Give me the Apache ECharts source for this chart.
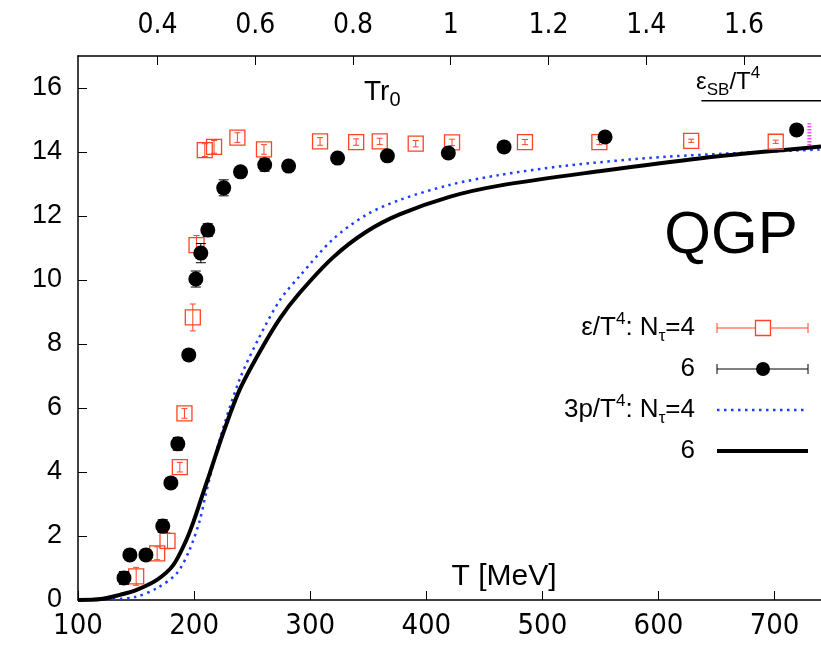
<!DOCTYPE html>
<html>
<head>
<meta charset="utf-8">
<script src="https://cdn.jsdelivr.net/npm/echarts@6/dist/echarts.min.js"></script>
<style>
  html, body { margin: 0; padding: 0; background: #fff; }
  #chart { width: 821px; height: 647px; }
</style>
</head>
<body>
<div id="chart"></div>
<script>
// e/T^4, N_tau=4 (red squares)
const eps4T = [150.1, 168.2, 177.1, 187.7, 191.7, 198.9, 202.1, 209.2, 217.2, 237.3, 260.2, 308.5, 339.6, 359.9, 390.9, 422.2, 485, 549.1, 628.2, 701];
const eps4 = [0.74, 1.46, 1.85, 4.15, 5.83, 8.83, 11.09, 14.06, 14.16, 14.45, 14.08, 14.33, 14.31, 14.33, 14.26, 14.30, 14.31, 14.31, 14.35, 14.32];
const eps4Err = [0.28, 0.2, 0.25, 0.15, 0.15, 0.42, 0.3, 0.2, 0.2, 0.15, 0.15, 0.12, 0.1, 0.1, 0.1, 0.1, 0.08, 0.08, 0.05, 0.05];

// e/T^4, N_tau=6 (black dots)
const eps6T = [139.6, 144.7, 158.5, 173, 180, 186, 195.4, 201.5, 205.8, 211.8, 225.5, 240, 260.8, 281.4, 323.6, 366.5, 419, 467, 554, 719];
const eps6 = [0.69, 1.41, 1.41, 2.31, 3.66, 4.88, 7.66, 10.03, 10.84, 11.56, 12.88, 13.38, 13.60, 13.56, 13.81, 13.88, 13.97, 14.16, 14.47, 14.69];
const eps6Err = [0.2, 0.15, 0.1, 0.2, 0.1, 0.2, 0.15, 0.25, 0.3, 0.2, 0.25, 0.1, 0.2, 0.1, 0.05, 0.05, 0.05, 0.05, 0.05, 0.05];

// 3p/T^4 curves
const p4T = [100, 130, 150, 168, 185, 196, 205, 210, 222, 239, 256, 274, 291, 319.5, 348, 377, 420, 463, 520, 606, 740];
const p4 = [0, 0.02, 0.1, 0.37, 0.83, 1.56, 2.5, 3.3, 5.0, 6.875, 8.2, 9.375, 10.125, 11.27, 12.03, 12.5, 12.97, 13.28, 13.57, 13.85, 14.08];
const p6T = [100, 120, 136, 150, 168, 182, 193, 200, 206, 213.5, 225, 239, 256.5, 274, 291, 319.5, 348, 377, 420, 463, 549, 635, 740];
const p6 = [0, 0.03, 0.16, 0.31, 0.63, 1.09, 1.85, 2.5, 3.15, 3.96, 5.21, 6.55, 7.75, 8.8, 9.6, 10.7, 11.5, 12.05, 12.6, 12.95, 13.4, 13.8, 14.17];

// Stefan-Boltzmann limit and its band
const sbT = [637, 740];
const sbValue = 15.6;
const bandT = 730;
const bandRange = [14.2, 14.9];

// axes
const tMin = 100, tMax = 740;
const tr0Scale = 421;   // MeV per unit of T r0
const tr0Ticks = [0.4, 0.6, 0.8, 1.0, 1.2, 1.4, 1.6];

const zip = (xs, ys) => xs.map((x, i) => [x, ys[i]]);
const errData = (xs, ys, es) => xs.map((x, i) => [x, ys[i] - es[i], ys[i] + es[i]]);

function errorBar(color, cap) {
  return function (params, api) {
    const lo = api.coord([api.value(0), api.value(1)]);
    const hi = api.coord([api.value(0), api.value(2)]);
    const st = { stroke: color, lineWidth: 1 };
    return {
      type: 'group',
      children: [
        { type: 'line', shape: { x1: lo[0], y1: lo[1], x2: hi[0], y2: hi[1] }, style: st },
        { type: 'line', shape: { x1: lo[0] - cap, y1: lo[1], x2: lo[0] + cap, y2: lo[1] }, style: st },
        { type: 'line', shape: { x1: hi[0] - cap, y1: hi[1], x2: hi[0] + cap, y2: hi[1] }, style: st }
      ]
    };
  };
}

const RED = '#ff4426';
const BLUE = '#1f3dff';
const font = 'Liberation Sans, Arial, Helvetica, sans-serif';
const narrow = 'Liberation Sans Narrow, Arial Narrow, DejaVu Sans Condensed, Liberation Sans, sans-serif';

const richBase = {
  a: { fontSize: 26, fontFamily: font, color: '#000', lineHeight: 34, verticalAlign: 'middle' },
  sup: { fontSize: 17, fontFamily: font, color: '#000', verticalAlign: 'top', lineHeight: 34 },
  sub: { fontSize: 17, fontFamily: font, color: '#000', verticalAlign: 'bottom', lineHeight: 30 }
};

const legendRows = [
  { y: 328, text: '{a|ε/T}{sup|4}{a|: N}{sub|τ}{a|=4}' },
  { y: 369, text: '{a|6}' },
  { y: 410, text: '{a|3p/T}{sup|4}{a|: N}{sub|τ}{a|=4}' },
  { y: 451, text: '{a|6}' }
];
const lx1 = 717, lx2 = 808, lxm = 763;

const graphics = [];
legendRows.forEach(r => {
  graphics.push({ type: 'text', x: 695, y: r.y, style: { text: r.text, rich: richBase, align: 'right', verticalAlign: 'middle' } });
});
// legend samples
[[legendRows[0].y, RED], [legendRows[1].y, '#000']].forEach(([y, c]) => {
  graphics.push({ type: 'line', shape: { x1: lx1, y1: y, x2: lx2, y2: y }, style: { stroke: c, lineWidth: 1 } });
  graphics.push({ type: 'line', shape: { x1: lx1, y1: y - 5, x2: lx1, y2: y + 5 }, style: { stroke: c, lineWidth: 1 } });
  graphics.push({ type: 'line', shape: { x1: lx2, y1: y - 5, x2: lx2, y2: y + 5 }, style: { stroke: c, lineWidth: 1 } });
});
graphics.push({ type: 'rect', shape: { x: lxm - 7.5, y: legendRows[0].y - 7.5, width: 15, height: 15 }, style: { fill: '#fff', stroke: RED, lineWidth: 1.3 } });
graphics.push({ type: 'circle', shape: { cx: lxm, cy: legendRows[1].y, r: 7 }, style: { fill: '#000' } });
graphics.push({ type: 'line', shape: { x1: lx1, y1: legendRows[2].y, x2: lx2, y2: legendRows[2].y }, style: { stroke: BLUE, lineWidth: 2.5, lineDash: [2.5, 4.5] } });
graphics.push({ type: 'line', shape: { x1: lx1, y1: legendRows[3].y, x2: lx2, y2: legendRows[3].y }, style: { stroke: '#000', lineWidth: 4 } });

// labels
graphics.push({ type: 'text', x: 731, y: 236, style: { text: 'QGP', font: '60px ' + font, fill: '#000', align: 'center', verticalAlign: 'middle' } });
graphics.push({ type: 'text', x: 504, y: 577, style: { text: 'T [MeV]', font: '30px ' + font, fill: '#000', align: 'center', verticalAlign: 'middle' } });
graphics.push({ type: 'text', x: 364, y: 92, style: { text: '{a|Tr}{sub|0}', rich: {
  a: { fontSize: 28, fontFamily: font, color: '#000', lineHeight: 36 },
  sub: { fontSize: 20, fontFamily: font, color: '#000', verticalAlign: 'bottom', lineHeight: 32 }
}, align: 'left', verticalAlign: 'middle' } });
graphics.push({ type: 'text', x: 696, y: 82, style: { text: '{a|ε}{sub|SB}{a|/T}{sup|4}', rich: {
  a: { fontSize: 24, fontFamily: font, color: '#000', lineHeight: 32 },
  sub: { fontSize: 17, fontFamily: font, color: '#000', verticalAlign: 'bottom', lineHeight: 28 },
  sup: { fontSize: 17, fontFamily: font, color: '#000', verticalAlign: 'top', lineHeight: 34 }
}, align: 'left', verticalAlign: 'middle' } });

const chart = echarts.init(document.getElementById('chart'));
chart.setOption({
  animation: false,
  backgroundColor: '#fff',
  grid: { left: 78, right: 0, top: 56, bottom: 47 },
  xAxis: [
    {
      type: 'value', min: tMin, max: tMax, interval: 100, position: 'bottom',
      axisLine: { lineStyle: { color: '#000', width: 1.5 } },
      axisTick: { inside: true, length: 9, lineStyle: { color: '#000', width: 1 } },
      axisLabel: { color: '#000', fontSize: 29, fontFamily: narrow, margin: 12, showMaxLabel: false },
      splitLine: { show: false }
    },
    {
      type: 'value', min: tMin / tr0Scale, max: tMax / tr0Scale, position: 'top',
      axisLine: { lineStyle: { color: '#000', width: 1.5 } },
      axisTick: { inside: true, length: 9, customValues: tr0Ticks, lineStyle: { color: '#000', width: 1 } },
      axisLabel: { color: '#000', fontSize: 28, fontFamily: narrow, margin: 16, customValues: tr0Ticks,
        formatter: v => String(Math.round(v * 10) / 10) },
      splitLine: { show: false }
    }
  ],
  yAxis: {
    type: 'value', min: 0, max: 17, interval: 2,
    axisLine: { show: true, lineStyle: { color: '#000', width: 1.5 } },
    axisTick: { show: true, inside: true, length: 9, lineStyle: { color: '#000', width: 1 } },
    axisLabel: { color: '#000', fontSize: 27, fontFamily: font, margin: 16, showMaxLabel: false },
    splitLine: { show: false }
  },
  graphic: graphics,
  series: [
    {
      name: 'sb', type: 'line', data: zip(sbT, sbT.map(() => sbValue)), symbol: 'none',
      lineStyle: { color: '#000', width: 1.5 }, z: 2
    },
    {
      name: 'band', type: 'line', data: [[bandT, bandRange[0]], [bandT, bandRange[1]]], symbol: 'none',
      lineStyle: { color: '#f04df0', width: 4, type: [1.5, 1.5] }, z: 2
    },
    {
      name: 'p4', type: 'line', data: zip(p4T, p4), symbol: 'none', smooth: 0.3,
      lineStyle: { color: BLUE, width: 2.5, type: [2.5, 4.5] }, z: 3
    },
    {
      name: 'p6', type: 'line', data: zip(p6T, p6), symbol: 'none', smooth: 0.3,
      lineStyle: { color: '#000', width: 4 }, z: 4
    },
    {
      name: 'eps4', type: 'scatter', data: zip(eps4T, eps4), symbol: 'rect', symbolSize: 15,
      itemStyle: { color: 'rgba(255,255,255,0)', borderColor: RED, borderWidth: 1.3, opacity: 1 }, z: 5
    },
    {
      name: 'eps4err', type: 'custom', data: errData(eps4T, eps4, eps4Err),
      renderItem: errorBar(RED, 3), z: 6
    },
    {
      name: 'eps6', type: 'scatter', data: zip(eps6T, eps6), symbol: 'circle', symbolSize: 15,
      itemStyle: { color: '#000', opacity: 1 }, z: 7
    },
    {
      name: 'eps6err', type: 'custom', data: errData(eps6T, eps6, eps6Err),
      renderItem: errorBar('#000', 5), z: 7
    }
  ]
});
</script>
</body>
</html>
